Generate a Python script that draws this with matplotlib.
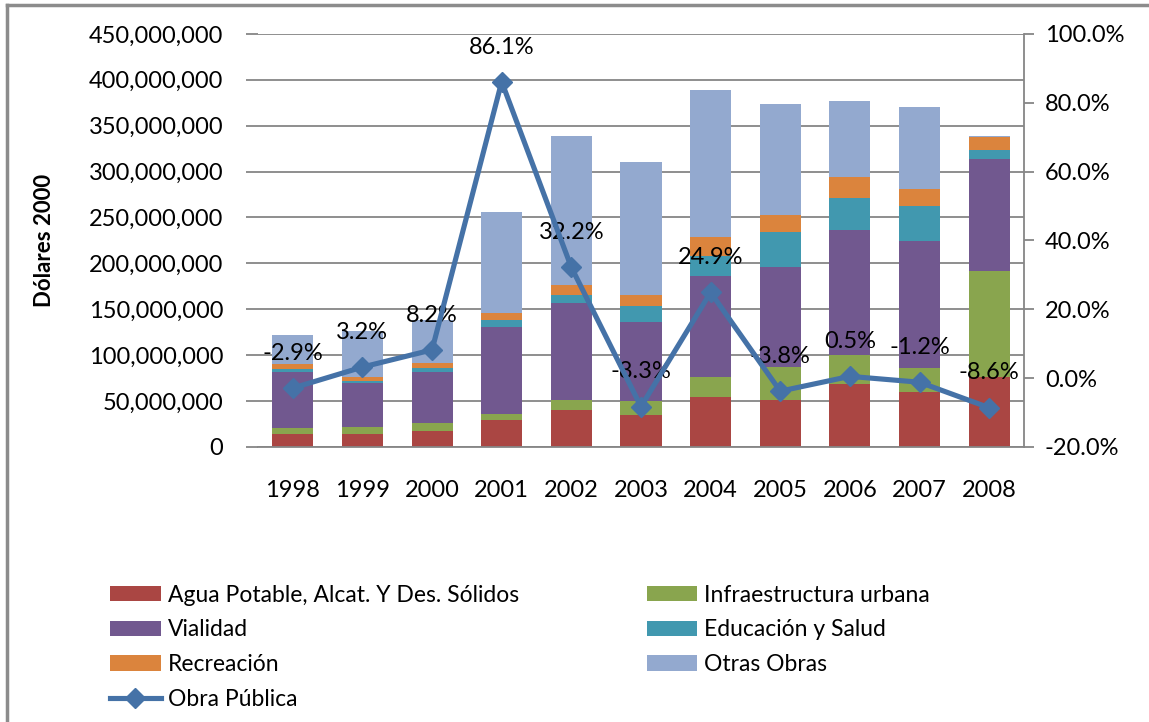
import numpy as np
import matplotlib.pyplot as plt
from matplotlib.lines import Line2D
from matplotlib.ticker import FuncFormatter

plt.rcParams['font.family'] = ['Lato', 'DejaVu Sans']

years = ['1998', '1999', '2000', '2001', '2002', '2003', '2004', '2005', '2006', '2007', '2008']

# segment heights (millions of dollars)
agua = [14, 14, 17.5, 29.5, 40, 35, 54.5, 51, 69, 60, 76.5]
infra = [7, 8, 8.5, 6.5, 11, 15, 21.5, 36, 31, 26.5, 115]
vialidad = [61, 48, 56, 95, 105.5, 86.5, 110, 109, 136.5, 138, 122]
educ = [3, 1.5, 4, 7, 9, 17, 22, 38, 35, 38.5, 10.5]
recre = [5, 4.5, 5.5, 7.5, 11, 12, 21, 18.5, 22.5, 18, 13.5]
otras = [32, 50, 46.5, 110.5, 162, 145, 160, 121, 83, 89, 1.5]
crec = [-2.9, 3.2, 8.2, 86.1, 32.2, -8.3, 24.9, -3.8, 0.5, -1.2, -8.6]

series = [
    ('Agua Potable, Alcat. Y Des. Sólidos', agua, '#AA4643'),
    ('Infraestructura urbana', infra, '#89A54E'),
    ('Vialidad', vialidad, '#71588F'),
    ('Educación y Salud', educ, '#4198AF'),
    ('Recreación', recre, '#DB843D'),
    ('Otras Obras', otras, '#93A9CF'),
]

fig = plt.figure(figsize=(11.49, 7.22), dpi=100)
ax = fig.add_axes([0.2245, 0.381, 0.6667, 0.572])
ax2 = ax.twinx()

x = np.arange(len(years))
bottom = np.zeros(len(years))
handles = {}
for name, vals, col in series:
    v = np.array(vals) * 1e6
    b = ax.bar(x, v, 0.59, bottom=bottom, color=col, label=name, zorder=2)
    handles[name] = b
    bottom += v

ax.set_ylim(0, 450e6)
ax.set_xlim(-0.5, len(years) - 0.5)
ax.set_yticks(np.arange(0, 450e6 + 1, 50e6))
ax.yaxis.set_major_formatter(FuncFormatter(lambda v, p: f'{v:,.0f}'))
ax.set_xticks(x)
ax.set_xticklabels(years)
ax.grid(axis='y', color='#868686', linewidth=1.3, zorder=0)
ax.set_axisbelow(True)
for s in ['top', 'left', 'right']:
    ax.spines[s].set_visible(False)
ax.spines['bottom'].set_color('#868686')
ax.spines['bottom'].set_linewidth(1.3)
ax.tick_params(axis='y', length=9, width=1.3, color='#868686', pad=16, labelsize=17)
ax.tick_params(axis='x', length=0, pad=24, labelsize=17)
ax.set_ylabel('Dólares 2000', fontsize=16, fontweight='bold', labelpad=24)

ln, = ax2.plot(x, crec, color='#4572A7', linewidth=3.7, marker='D', markersize=10,
               zorder=5, label='Obra Pública')
for xi, yi in zip(x, crec):
    ax2.annotate(f'{yi:.1f}%', (xi, yi), xytext=(0, 25), textcoords='offset points',
                 ha='center', va='center', fontsize=17)
ax2.set_ylim(-20, 100)
ax2.set_yticks(np.arange(-20, 101, 20))
ax2.yaxis.set_major_formatter(FuncFormatter(lambda v, p: f'{v:.1f}%'))
for s in ['top', 'left', 'bottom']:
    ax2.spines[s].set_visible(False)
ax2.spines['right'].set_color('#868686')
ax2.spines['right'].set_linewidth(1.3)
ax2.tick_params(axis='y', length=7, width=1.3, color='#868686', pad=8, labelsize=17)
ax.set_zorder(1)
ax2.set_zorder(2)
ax2.patch.set_visible(False)

order = ['Agua Potable, Alcat. Y Des. Sólidos', 'Vialidad', 'Recreación']
h = [handles[n] for n in order] + [ln] + [handles['Infraestructura urbana'],
                                          handles['Educación y Salud'], handles['Otras Obras']]
l = order + ['Obra Pública', 'Infraestructura urbana', 'Educación y Salud', 'Otras Obras']
fig.legend(h, l, ncol=2, loc='upper left', bbox_to_anchor=(0.078, 0.219), frameon=False,
           fontsize=16.5, handlelength=2.2, handleheight=0.65, handletextpad=0.3,
           labelspacing=0.6, columnspacing=5.6)

# chart frame (left and top edges)
fig.add_artist(Line2D([0.006, 0.006], [0, 0.993], color='#8C8C8C', linewidth=2.5))
fig.add_artist(Line2D([0.006, 1], [0.993, 0.993], color='#8C8C8C', linewidth=2.5))

fig.savefig('out.png', dpi=100)
